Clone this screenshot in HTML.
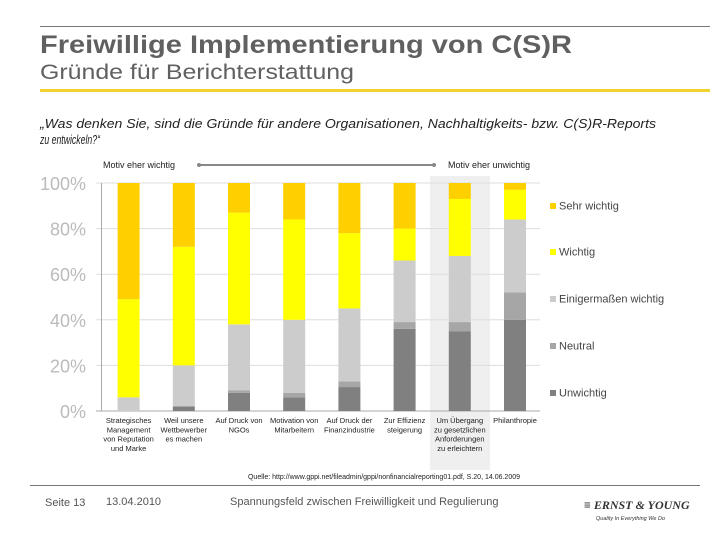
<!DOCTYPE html>
<html><head><meta charset="utf-8"><style>
body{margin:0;width:720px;height:540px;background:#fff;font-family:"Liberation Sans",sans-serif;overflow:hidden}
</style></head><body>
<svg width="720" height="540" xmlns="http://www.w3.org/2000/svg" font-family="Liberation Sans, sans-serif">
<line x1="40" y1="26.5" x2="710" y2="26.5" stroke="#777" stroke-width="1"/>
<text x="40" y="53" font-size="25" font-weight="bold" fill="#606060" textLength="532" lengthAdjust="spacingAndGlyphs">Freiwillige Implementierung von C(S)R</text>
<text x="40" y="79" font-size="21" fill="#606060" textLength="314" lengthAdjust="spacingAndGlyphs">Gründe für Berichterstattung</text>
<rect x="40" y="89" width="670" height="3" fill="#f2d230"/>
<text x="40" y="128" font-size="13" font-style="italic" fill="#222" textLength="616" lengthAdjust="spacingAndGlyphs">„Was denken Sie, sind die Gründe für andere Organisationen, Nachhaltigkeits- bzw. C(S)R-Reports</text>
<text x="40" y="144" font-size="13" font-style="italic" fill="#222" textLength="60" lengthAdjust="spacingAndGlyphs">zu entwickeln?“</text>
<rect x="430" y="176" width="60" height="294" fill="#efefef"/>
<text x="103" y="168" font-size="9" fill="#222">Motiv eher wichtig</text>
<text x="448" y="168" font-size="9" fill="#222">Motiv eher unwichtig</text>
<line x1="199" y1="165" x2="434" y2="165" stroke="#888" stroke-width="2"/>
<circle cx="199" cy="165" r="2" fill="#888"/><circle cx="434" cy="165" r="2" fill="#888"/>
<g id="chart"></g>
<text x="520" y="479" font-size="7" fill="#222" text-anchor="end">Quelle: http://www.gppi.net/fileadmin/gppi/nonfinancialreporting01.pdf, S.20, 14.06.2009</text>
<line x1="30" y1="485.5" x2="700" y2="485.5" stroke="#777" stroke-width="1"/>
<text x="45" y="506" font-size="11" fill="#555">Seite 13</text>
<text x="106" y="505" font-size="11" fill="#555">13.04.2010</text>
<text x="230" y="505" font-size="11" fill="#555">Spannungsfeld zwischen Freiwilligkeit und Regulierung</text>
<text x="584" y="509" font-size="12" font-weight="bold" font-style="italic" fill="#333" font-family="Liberation Serif, serif">≡ ERNST &amp; YOUNG</text>
<text x="596" y="520" font-size="5.5" font-style="italic" fill="#333">Quality In Everything We Do</text>
</svg>
<script>
const categories=[["Strategisches","Management","von Reputation","und Marke"],["Weil unsere","Wettbewerber","es machen"],["Auf Druck von","NGOs"],["Motivation von","Mitarbeitern"],["Auf Druck der","Finanzindustrie"],["Zur Effizienz","steigerung"],["Um Übergang","zu gesetzlichen","Anforderungen","zu erleichtern"],["Philanthropie"]];
const unwichtig=[0,2,8,6,10.5,36,35,40];
const neutral=[0,0,1,2,2.5,3,4,12];
const einigermassen=[6,18,29,32,32,27,29,32];
const wichtig=[43,52,49,44,33,14,25,13];
const sehrWichtig=[51,28,13,16,22,20,7,3];
const seriesNames=["Unwichtig","Neutral","Einigermaßen wichtig","Wichtig","Sehr wichtig"];
const seriesColors=["#808080","#a6a6a6","#cccccc","#ffff00","#ffd000"];
const yTicks=[0,20,40,60,80,100];
const NS="http://www.w3.org/2000/svg";
const g=document.getElementById("chart");
const y0=411,yTop=183,xStart=101,step=55.2,bw=22;
const yScale=v=>y0-(y0-yTop)*v/100;
const xScale=i=>xStart+step*(i+0.5);
function mk(t,a){const e=document.createElementNS(NS,t);for(const k in a)e.setAttribute(k,a[k]);g.appendChild(e);return e;}
yTicks.forEach(t=>{
 const l=mk("line",{x1:96,x2:540,y1:yScale(t),y2:yScale(t),stroke:t===0?"#aaa":"#ddd","stroke-width":1});
 
 
 const tx=mk("text",{x:86,y:yScale(t)+7,"font-size":18,fill:"#bbb","text-anchor":"end"});
 tx.textContent=t+"%";
 
 
});
mk("line",{x1:101.5,x2:101.5,y1:yTop,y2:y0,stroke:"#aaa"});
const series=[unwichtig,neutral,einigermassen,wichtig,sehrWichtig];
categories.forEach((c,i)=>{
 let cum=0;
 series.forEach((s,k)=>{
  const v=s[i];
  const r=mk("rect",{x:xScale(i)-bw/2,width:bw,y:yScale(cum+v),height:yScale(cum)-yScale(cum+v),fill:seriesColors[k]});
  
  
  cum+=v;
 });
 c.forEach((line,j)=>{
  const t=mk("text",{x:xScale(i),y:423+j*9.3,"font-size":7.5,fill:"#222","text-anchor":"middle"});
  t.textContent=line;
  
  
 });
});
seriesNames.forEach((n,k)=>{
 const yy=[208,254,301,348,395][4-k];
 const r=mk("rect",{x:550,y:yy-5,width:6,height:6,fill:seriesColors[k]});
 
 
 const t=mk("text",{x:559,y:yy+1.5,"font-size":11,fill:"#444"});
 t.textContent=n;
 
 
});
</script>
</body></html>
